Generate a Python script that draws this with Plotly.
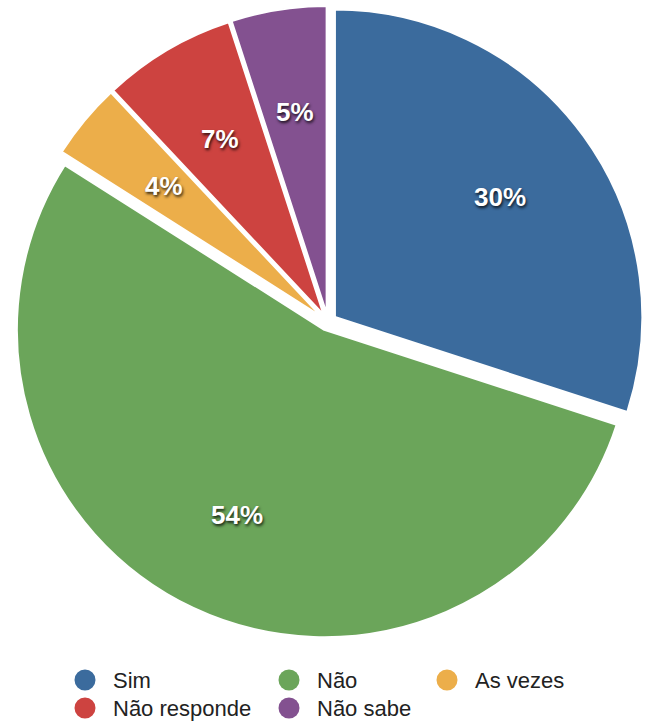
import math
import plotly.graph_objects as go

categories = ["Sim", "Não", "As vezes", "Não responde", "Não sabe"]
values = [30, 54, 4, 7, 5]
colors = ["#3B6B9D", "#6BA55A", "#ECAE4A", "#CD4340", "#835190"]

W, H = 651, 722
FONT = "Liberation Sans, Arial, Helvetica, sans-serif"
PULL = 0.028
DOM_X = [0.0184, 0.9892]
DOM_Y = [0.1163, 0.9917]
LABEL_R = 0.665  # fraction of radius at which percent labels sit

fig = go.Figure()
fig.add_trace(go.Pie(
    labels=categories,
    values=values,
    sort=False,
    direction="clockwise",
    rotation=0,
    pull=[PULL] * len(values),
    marker=dict(colors=colors, line=dict(color="white", width=2)),
    textinfo="none",
    hoverinfo="skip",
    showlegend=False,
    domain=dict(x=DOM_X, y=DOM_Y),
))

# pie geometry (same rule as plotly: r = min(box)/(2*(1+maxPull)))
box_w = W * (DOM_X[1] - DOM_X[0])
box_h = H * (DOM_Y[1] - DOM_Y[0])
r = min(box_w, box_h) / (2 * (1 + PULL))
cx = W * (DOM_X[0] + DOM_X[1]) / 2
cy = H * (1 - DOM_Y[0]) - box_h / 2

annotations = []
total = sum(values)
cum = 0
for v in values:
    mid = 2 * math.pi * (cum + v / 2) / total
    cum += v
    dist = r * (LABEL_R + PULL)
    px = cx + dist * math.sin(mid)
    py = cy - dist * math.cos(mid)
    annotations.append(dict(
        text=f"{round(100 * v / total)}%", xref="paper", yref="paper",
        x=px / W, y=1 - py / H, xanchor="center", yanchor="middle",
        showarrow=False,
        font=dict(family=FONT, size=26, color="white", weight="bold",
                  shadow="1px 2px 3px rgba(0,0,0,0.8)")))

# legend drawn as a 3-column grid (row-major order)
col_x = [85, 289, 447]
row_y = [680, 708]
shapes = []
for i, (name, c) in enumerate(zip(categories, colors)):
    lx = col_x[i % 3]
    ly = row_y[i // 3]
    yp = 1 - ly / H
    shapes.append(dict(type="circle", xref="paper", yref="paper",
                       xsizemode="pixel", ysizemode="pixel",
                       xanchor=lx / W, yanchor=yp,
                       x0=-10.5, x1=10.5, y0=-10.5, y1=10.5,
                       fillcolor=c, line=dict(width=0)))
    annotations.append(dict(text=name, xref="paper", yref="paper",
                            x=(lx + 26) / W, y=yp, xanchor="left", yanchor="middle",
                            showarrow=False,
                            font=dict(family=FONT, size=22, color="#222222")))

fig.update_layout(
    width=W, height=H,
    margin=dict(l=0, r=0, t=0, b=0),
    paper_bgcolor="white",
    plot_bgcolor="white",
    shapes=shapes,
    annotations=annotations,
)

fig.write_html("out.html", config={"displayModeBar": False},
               post_script="document.body.style.margin='0';document.body.style.overflow='hidden';")
